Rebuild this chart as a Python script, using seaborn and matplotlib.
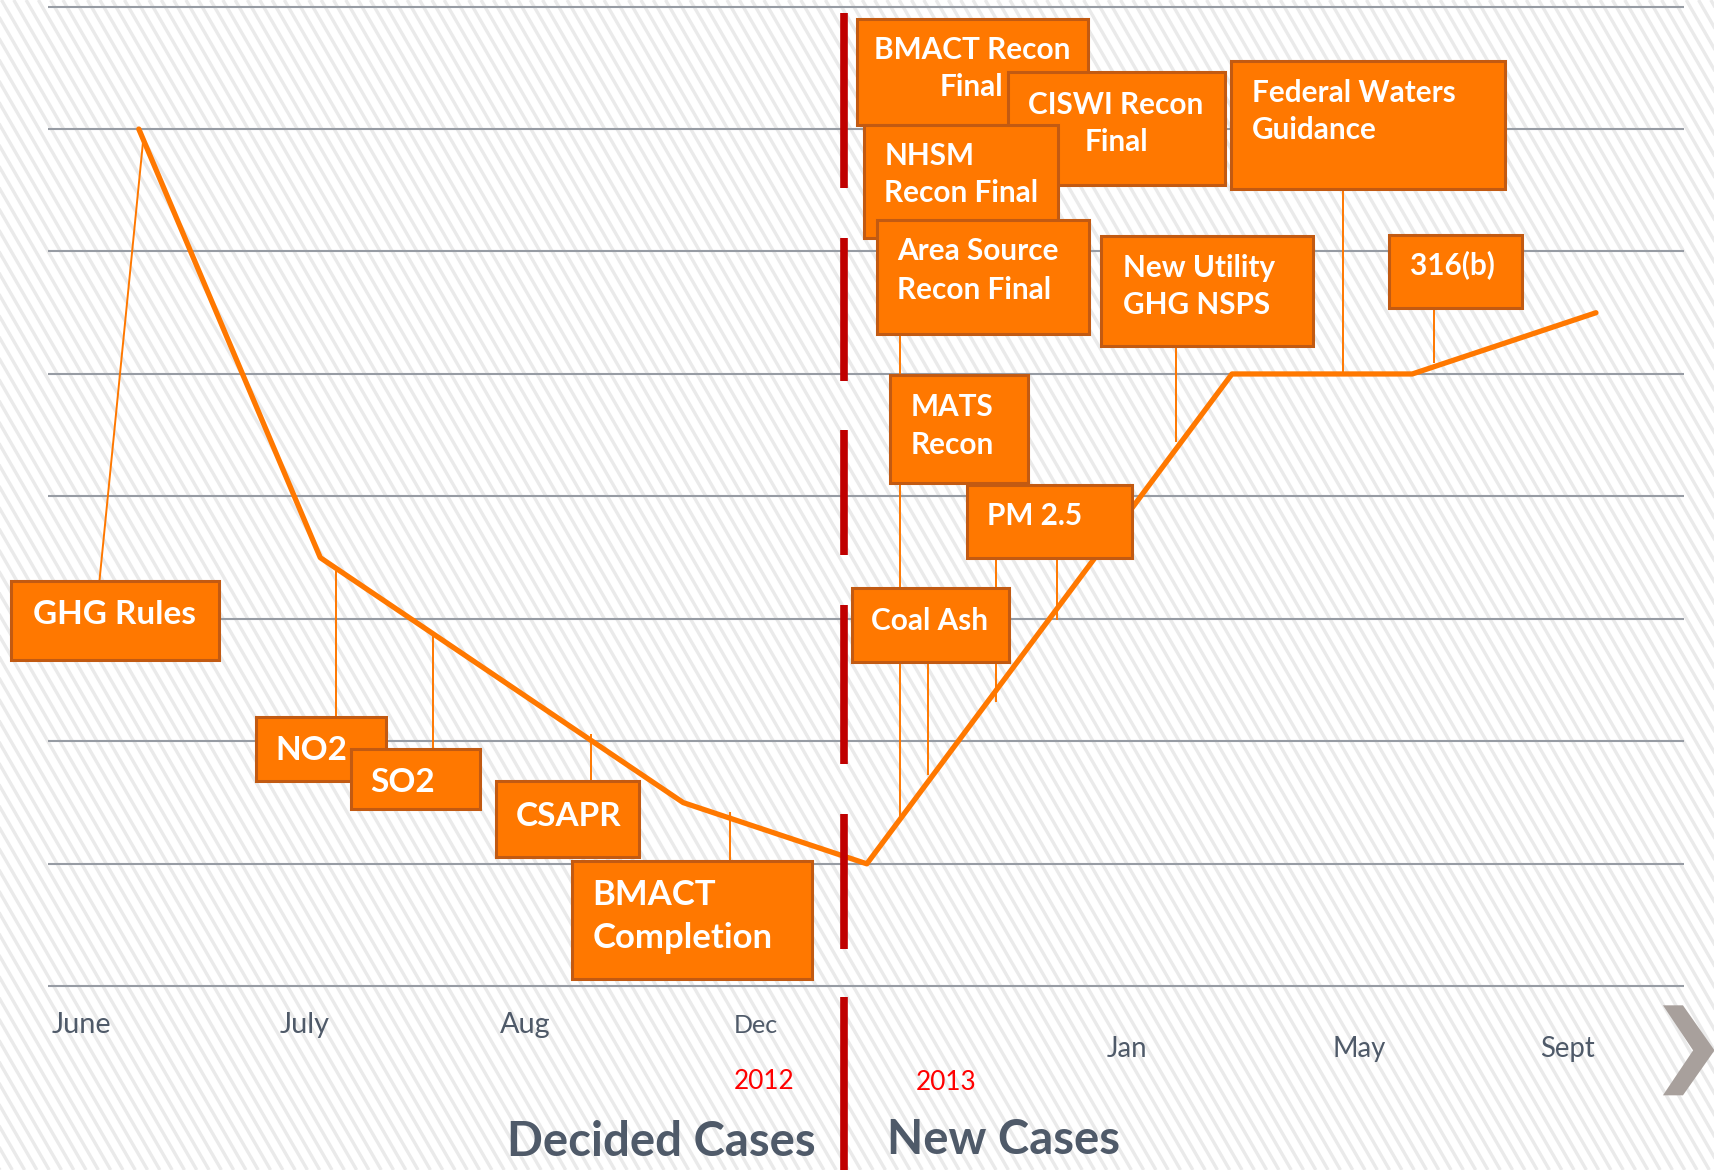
import numpy as np
import matplotlib
matplotlib.use("Agg")
import matplotlib.pyplot as plt
from matplotlib.patches import Rectangle, Polygon
from matplotlib.collections import LineCollection
import seaborn as sns

# ---------------- data ----------------
timeline_pos = [127, 293, 625, 793, 1127, 1292, 1460]
activity_level = [7.0, 3.5, 1.5, 1.0, 5.0, 5.0, 5.5]
grid_levels = [0, 1, 2, 3, 4, 5, 6, 7, 8]
month_labels = ["June", "July", "Aug", "Dec", "Jan", "May", "Sept"]
year_labels = ["2012", "2013"]
section_titles = ["Decided Cases", "New Cases"]
case_labels = [
    "GHG Rules", "NO2", "SO2", "CSAPR", "BMACT\nCompletion",
    "BMACT Recon\nFinal", "CISWI Recon\nFinal", "NHSM\nRecon Final",
    "Area Source\nRecon Final", "Federal Waters\nGuidance",
    "New Utility\nGHG NSPS", "316(b)", "MATS\nRecon", "PM 2.5", "Coal Ash",
]

# ---------------- layout (reference pixel frame 1568 x 1070) ----------------
W, H = 1568, 1070
def Y(py):
    return (902 - py) / 112.0

# box rect (x0, y0, x1, y1), text x, baselines, align, fontsize
box_layout = [
    ((10, 531, 200, 604), 30, [571], "left", 24),
    ((234, 656, 353, 714), 252, [695], "left", 24),
    ((321, 685, 439, 740), 339, [724], "left", 24),
    ((454, 714, 585, 784), 472, [755], "left", 24),
    ((523, 787, 743, 895), 542, [828, 867], "left", 25),
    ((784, 17, 995, 114), 889, [54, 88], "center", 21.4),
    ((922, 66, 1121, 169), 1021, [104, 138], "center", 21.4),
    ((790, 114, 968, 218), 809, [151, 185], "left", 21.4),
    ((802, 201, 996, 305), 821, [238, 273], "left", 21.4),
    ((1126, 56, 1377, 173), 1145, [93, 127], "left", 21.4),
    ((1007, 216, 1201, 316), 1027, [253, 287], "left", 21.4),
    ((1271, 215, 1392, 282), 1329, [251], "center", 21.4),
    ((814, 343, 940, 442), 833, [380, 415], "left", 21.4),
    ((885, 444, 1036, 510), 903, [480], "left", 21.4),
    ((779, 538, 923, 605), 797, [576], "left", 21.4),
]
connectors = [
    ((91, 531), (131, 128)),
    ((307, 656), (307, 522)),
    ((396, 685), (396, 580)),
    ((541, 714), (541, 671)),
    ((668, 787), (668, 743)),
    ((823, 304), (823, 747)),
    ((849, 605), (849, 709)),
    ((911, 509), (911, 642)),
    ((967, 509), (967, 567)),
    ((1076, 316), (1076, 404)),
    ((1229, 173), (1229, 342)),
    ((1312, 282), (1312, 332)),
]
red_dashes = [(12, 172), (218, 348), (393, 508), (553, 699), (744, 868), (912, 1075)]
month_layout = [(47, 945, 20.8), (256, 945, 20.8), (457, 945, 20.8), (671, 945, 18),
                (1012, 967, 19.8), (1219, 967, 19.8), (1409, 967, 19.8)]
year_layout = [(671, 996), (838, 997)]
title_layout = [(464, 1057), (811, 1055)]

ORANGE = "#ff7800"
EDGE = "#c25a12"
SLATE = "#4f5a69"

sns.set_theme(style="white")
plt.rcParams["font.family"] = ["Lato", "DejaVu Sans"]

fig = plt.figure(figsize=(17.14, 11.70), dpi=100)
fig.patch.set_facecolor("white")

# striped background
bg = fig.add_axes([0, 0, 1, 1], zorder=0)
bg.set_xlim(0, W)
bg.set_ylim(H, 0)
bg.axis("off")
slope = 0.577
step = 11.25
x0s = np.arange(-H * slope - step, W + step, step)
segs = [[(x, 0), (x + H * slope, H)] for x in x0s]
bg.add_collection(LineCollection(segs, colors="#eaeaea", linewidths=2.4))

ax = fig.add_axes([0, 0, 1, 1], zorder=1)
ax.patch.set_alpha(0)

# gridlines
ax.hlines(grid_levels, 44, 1541, colors="#979ca4", linewidth=1.5, zorder=1)

# connectors
for (xa, ya), (xb, yb) in connectors:
    ax.plot([xa, xb], [Y(ya), Y(yb)], color=ORANGE, lw=1.4, zorder=2,
            solid_capstyle="butt")

# main line
sns.lineplot(x=timeline_pos, y=activity_level, sort=False, color=ORANGE,
             linewidth=3.8, ax=ax, zorder=3)
for ln in ax.lines[-1:]:
    ln.set_solid_joinstyle("round")
    ln.set_solid_capstyle("round")

# red divider
for a, b in red_dashes:
    ax.plot([772.5, 772.5], [Y(a), Y(b)], color="#c00000", lw=5.5, zorder=4,
            solid_capstyle="butt")

# boxes
for i, (label, (rect, tx, bases, ha, fs)) in enumerate(zip(case_labels, box_layout)):
    x0, y0, x1, y1 = rect
    z = 5 + i * 0.1
    ax.add_patch(Rectangle((x0, Y(y1)), x1 - x0, Y(y0) - Y(y1), facecolor=ORANGE,
                           edgecolor=EDGE, lw=2.2, zorder=z))
    for line, b in zip(label.split("\n"), bases):
        ax.text(tx, Y(b), line, color="white", fontsize=fs, fontweight="bold",
                ha=ha, va="baseline", zorder=z + 0.05)

# month labels
for lab, (x, b, fs) in zip(month_labels, month_layout):
    ax.text(x, Y(b), lab, color=SLATE, fontsize=fs, ha="left", va="baseline")
for lab, (x, b) in zip(year_labels, year_layout):
    ax.text(x, Y(b), lab, color="#ff0000", fontsize=18.8, ha="left", va="baseline")
for lab, (x, b) in zip(section_titles, title_layout):
    ax.text(x, Y(b), lab, color=SLATE, fontsize=34, fontweight="bold",
            ha="left", va="baseline")

# chevron
chev = [(1521.3, 919.4), (1539.6, 919.4), (1568.5, 960.6), (1539.6, 1001.7),
        (1521.3, 1001.7), (1548.9, 960.6)]
ax.add_patch(Polygon([(x, Y(y)) for x, y in chev], closed=True,
                     facecolor="#a8a09c", edgecolor="none", zorder=5))

ax.set_xlim(0, W)
ax.set_ylim(Y(H), Y(0))
ax.axis("off")

fig.savefig("out.png", dpi=100)
